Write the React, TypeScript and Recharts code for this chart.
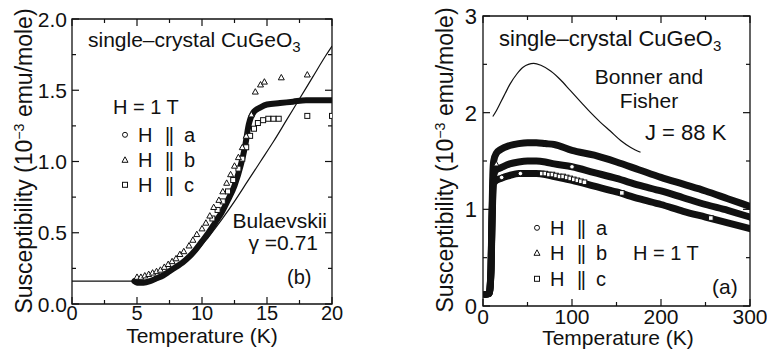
import React from 'react'
import { ComposedChart, Line, Scatter, XAxis, YAxis, ReferenceArea, Customized } from 'recharts'

// ---- panel (b): 0–20 K ----
const lowA_T = [4.8, 5.0, 5.5, 6.0, 6.5, 7.0, 7.5, 8.0, 8.5, 9.0, 9.5, 10.0, 10.5, 11.0, 11.5, 12.0, 12.5, 13.0, 13.3, 13.6, 14.0, 14.5, 15.0, 16.0, 17.0, 18.0, 19.0, 20.0]
const lowA_chi = [0.16, 0.15, 0.15, 0.16, 0.18, 0.2, 0.23, 0.26, 0.29, 0.33, 0.38, 0.44, 0.5, 0.57, 0.64, 0.73, 0.83, 0.98, 1.1, 1.26, 1.35, 1.38, 1.4, 1.41, 1.42, 1.43, 1.43, 1.43]

const lowB_T = [5.0, 5.3, 5.6, 5.9, 6.2, 6.5, 6.8, 7.1, 7.4, 7.7, 8.0, 8.3, 8.6, 9.0, 9.3, 9.6, 10.0, 10.3, 10.6, 10.9, 11.3, 11.6, 11.9, 12.2, 12.5, 12.8, 13.1, 13.4, 13.8, 14.1, 14.5, 14.8, 16.1, 18.1]
const lowB_chi = [0.19, 0.19, 0.2, 0.21, 0.22, 0.23, 0.24, 0.26, 0.28, 0.3, 0.32, 0.35, 0.37, 0.41, 0.45, 0.49, 0.53, 0.57, 0.62, 0.68, 0.73, 0.79, 0.85, 0.91, 0.97, 1.03, 1.1, 1.18, 1.33, 1.49, 1.54, 1.56, 1.59, 1.61]

const lowC_T = [10.8, 11.2, 11.6, 12.0, 12.4, 12.8, 13.1, 13.4, 13.7, 14.0, 14.3, 14.7, 15.1, 15.5, 15.9, 18.1, 20.0]
const lowC_chi = [0.6, 0.66, 0.72, 0.79, 0.87, 0.95, 1.02, 1.1, 1.18, 1.23, 1.27, 1.29, 1.3, 1.3, 1.3, 1.32, 1.32]

// Bulaevskii fit, gamma = 0.71
const bulT = [0, 4.5, 5.5, 6.5, 7.5, 8.5, 9.5, 10.5, 11.5, 12.5, 13.5, 14.5, 15.5, 16.5, 17.5, 18.5, 19.5, 20]
const bulChi = [0.16, 0.16, 0.165, 0.18, 0.22, 0.28, 0.36, 0.47, 0.59, 0.72, 0.86, 1.0, 1.14, 1.29, 1.44, 1.59, 1.74, 1.81]

const lowXMajor = [0, 5, 10, 15, 20]
const lowXLabels = ['0', '5', '10', '15', '20']
const lowXMinor = [2.5, 7.5, 12.5, 17.5]
const lowYMajor = [0, 0.5, 1, 1.5, 2]
const lowYLabels = ['0.0', '0.5', '1.0', '1.5', '2.0']
const lowYMinor = [0.25, 0.75, 1.25, 1.75]

// ---- panel (a): 0–300 K ----
const highA_T = [3, 7, 9, 10, 11, 12, 15, 20, 30, 40, 50, 60, 70, 80, 100, 125, 150, 175, 200, 225, 250, 275, 300]
const highA_chi = [0.12, 0.13, 0.38, 0.85, 1.2, 1.35, 1.41, 1.43, 1.47, 1.49, 1.5, 1.5, 1.49, 1.47, 1.44, 1.38, 1.32, 1.25, 1.19, 1.12, 1.05, 0.99, 0.92]

const highB_T = [3, 7, 9, 10, 11, 12, 15, 20, 30, 40, 50, 60, 70, 80, 100, 125, 150, 175, 200, 225, 250, 275, 300]
const highB_chi = [0.12, 0.13, 0.4, 0.9, 1.35, 1.5, 1.58, 1.62, 1.66, 1.68, 1.69, 1.69, 1.68, 1.67, 1.61, 1.56, 1.49, 1.41, 1.33, 1.26, 1.19, 1.11, 1.03]

const highC_T = [3, 7, 9, 10, 11, 12, 15, 20, 30, 40, 50, 60, 70, 80, 100, 125, 150, 175, 200, 225, 250, 275, 300]
const highC_chi = [0.12, 0.13, 0.36, 0.8, 1.15, 1.27, 1.3, 1.32, 1.35, 1.37, 1.37, 1.37, 1.36, 1.34, 1.3, 1.24, 1.18, 1.11, 1.05, 0.98, 0.92, 0.86, 0.8]

// open symbols that show through the dense bands
const highCircle_T = [21, 42, 100]
const highCircle_chi = [1.33, 1.37, 1.44]
const highTri_T = [15]
const highTri_chi = [1.47]
const highSq_T = [66, 70, 74, 78, 82, 86, 90, 94, 98, 102, 106, 110, 114, 156, 256]
const highSq_chi = [1.37, 1.37, 1.36, 1.36, 1.35, 1.34, 1.34, 1.33, 1.32, 1.31, 1.3, 1.29, 1.28, 1.17, 0.91]

// Bonner–Fisher chain, J = 88 K
const bfT = [11, 15, 20, 25, 30, 38, 45, 57, 65, 76, 87, 98, 110, 121, 132, 143, 155, 166, 177]
const bfChi = [1.96, 2.02, 2.11, 2.2, 2.29, 2.4, 2.47, 2.51, 2.49, 2.43, 2.34, 2.23, 2.11, 2.0, 1.9, 1.81, 1.71, 1.64, 1.59]

const highXMajor = [0, 100, 200, 300]
const highXLabels = ['0', '100', '200', '300']
const highXMinor = [50, 150, 250]
const highYMajor = [0, 1, 2, 3]
const highYLabels = ['0', '1', '2', '3']
const highYMinor = [0.5, 1.5, 2.5]

const zip = (ts: number[], vs: number[]) => ts.map((t, i) => ({ t, chi: vs[i] }))

const INK = '#111'
const FONT = '"Liberation Sans", Arial, Helvetica, sans-serif'

type Plot = { x: number; y: number; w: number; h: number }

const LOW_PLOT: Plot = { x: 72, y: 19, w: 260, h: 285 }
const HIGH_PLOT: Plot = { x: 103, y: 16, w: 267, h: 290 }

const sortTicks = (a: number[], b: number[]) => [...a, ...b].sort((p, q) => p - q)

// inward ticks on left and right edge, label on the left for majors
function makeYTick(plot: Plot, major: number[], labels: string[], gap: number, fs: number) {
  return (props: any) => {
    const { x, y, payload } = props
    const idx = major.indexOf(payload.value)
    const len = idx >= 0 ? 7 : 4
    const right = plot.x + plot.w
    return (
      <g>
        <line x1={x} x2={x + len} y1={y} y2={y} stroke={INK} strokeWidth={1.2} />
        <line x1={right} x2={right - len} y1={y} y2={y} stroke={INK} strokeWidth={1.2} />
        {idx >= 0 && (
          <text x={x - gap} y={y + fs * 0.36} textAnchor="end" fontSize={fs} fill={INK} fontFamily={FONT}>
            {labels[idx]}
          </text>
        )}
      </g>
    )
  }
}

// inward ticks on bottom and top edge, label below for majors
function makeXTick(plot: Plot, major: number[], labels: string[], drop: number, fs: number) {
  return (props: any) => {
    const { x, y, payload } = props
    const idx = major.indexOf(payload.value)
    const len = idx >= 0 ? 7 : 4
    const top = plot.y
    return (
      <g>
        <line x1={x} x2={x} y1={y} y2={y - len} stroke={INK} strokeWidth={1.2} />
        <line x1={x} x2={x} y1={top} y2={top + len} stroke={INK} strokeWidth={1.2} />
        {idx >= 0 && (
          <text x={x} y={y + drop} textAnchor="middle" fontSize={fs} fill={INK} fontFamily={FONT}>
            {labels[idx]}
          </text>
        )}
      </g>
    )
  }
}

const openCircle = (r: number) => (p: any) => (
  <circle cx={p.cx} cy={p.cy} r={r} fill="#fff" stroke={INK} strokeWidth={1} />
)
const openTriangle = (s: number) => (p: any) => (
  <polygon
    points={`${p.cx},${p.cy - s} ${p.cx - s},${p.cy + s * 0.8} ${p.cx + s},${p.cy + s * 0.8}`}
    fill="#fff"
    stroke={INK}
    strokeWidth={1}
  />
)
const openSquare = (s: number) => (p: any) => (
  <rect x={p.cx - s} y={p.cy - s} width={s * 2} height={s * 2} fill="#fff" stroke={INK} strokeWidth={1} />
)

function LegendRow({ x, y, letter, mark, fs }: { x: number; y: number; letter: string; mark: string; fs: number }) {
  const cy = y - fs * 0.36
  return (
    <g fontFamily={FONT} fontSize={fs} fill={INK}>
      {mark === 'o' && <circle cx={x} cy={cy} r={2.5} fill="#fff" stroke={INK} />}
      {mark === 't' && <polygon points={`${x},${cy - 3} ${x - 3},${cy + 2.5} ${x + 3},${cy + 2.5}`} fill="#fff" stroke={INK} />}
      {mark === 's' && <rect x={x - 2.5} y={cy - 2.5} width={5} height={5} fill="#fff" stroke={INK} />}
      <text x={x + 13} y={y}>H</text>
      <text x={x + 40} y={y} letterSpacing={-1.5}>||</text>
      <text x={x + 59} y={y}>{letter}</text>
    </g>
  )
}

function yTitle(x: number, cy: number, fs: number) {
  return (
    <text
      x={x}
      y={cy}
      transform={`rotate(-90 ${x} ${cy})`}
      textAnchor="middle"
      fontSize={fs}
      fill={INK}
      fontFamily={FONT}
    >
      Susceptibility (10
      <tspan dy={-8} fontSize={fs * 0.62}>−3</tspan>
      <tspan dy={8}> emu/mole)</tspan>
    </text>
  )
}

function LowLabels() {
  return (
    <g fontFamily={FONT} fill={INK}>
      <text x={88} y={47} fontSize={21}>
        single–crystal CuGeO<tspan dy={5} fontSize={15}>3</tspan>
      </text>
      <text x={113} y={114} fontSize={20}>H = 1 T</text>
      <LegendRow x={125} y={142} letter="a" mark="o" fs={20} />
      <LegendRow x={125} y={167} letter="b" mark="t" fs={20} />
      <LegendRow x={125} y={192} letter="c" mark="s" fs={20} />
      <text x={327} y={228} fontSize={21} textAnchor="end">Bulaevskii</text>
      <text x={318} y={250} fontSize={21} textAnchor="end">γ =0.71</text>
      <text x={287} y={284} fontSize={20}>(b)</text>
      <text x={202} y={343} fontSize={21} textAnchor="middle">Temperature (K)</text>
      {yTitle(32, 161, 23)}
    </g>
  )
}

function HighLabels() {
  return (
    <g fontFamily={FONT} fill={INK}>
      <text x={119} y={46} fontSize={22}>
        single–crystal CuGeO<tspan dy={5} fontSize={15}>3</tspan>
      </text>
      <text x={269} y={84} fontSize={21} textAnchor="middle">Bonner and</text>
      <text x={269} y={108} fontSize={21} textAnchor="middle">Fisher</text>
      <text x={265} y={140} fontSize={22}>J = 88 K</text>
      <LegendRow x={157} y={235} letter="a" mark="o" fs={20} />
      <LegendRow x={157} y={260} letter="b" mark="t" fs={20} />
      <LegendRow x={157} y={286} letter="c" mark="s" fs={20} />
      <text x={253} y={260} fontSize={20}>H = 1 T</text>
      <text x={332} y={294} fontSize={21}>(a)</text>
      <text x={238} y={345} fontSize={21} textAnchor="middle">Temperature (K)</text>
      {yTitle(73, 160, 23)}
    </g>
  )
}

function LowTempPanel() {
  const W = 380
  const H = 350
  const p = LOW_PLOT
  return (
    <ComposedChart
      width={W}
      height={H}
      margin={{ top: p.y, right: W - p.x - p.w, bottom: H - p.y - p.h - 30, left: p.x - 40 }}
    >
      <XAxis
        type="number"
        dataKey="t"
        domain={[0, 20]}
        ticks={sortTicks(lowXMajor, lowXMinor)}
        interval={0}
        height={30}
        axisLine={false}
        tickLine={false}
        tickSize={0}
        tickMargin={0}
        tick={makeXTick(p, lowXMajor, lowXLabels, 16, 20)}
        allowDataOverflow
      />
      <YAxis
        type="number"
        domain={[0, 2]}
        ticks={sortTicks(lowYMajor, lowYMinor)}
        interval={0}
        width={40}
        axisLine={false}
        tickLine={false}
        tickSize={0}
        tickMargin={0}
        tick={makeYTick(p, lowYMajor, lowYLabels, 5, 21)}
        allowDataOverflow
      />
      <ReferenceArea x1={0} x2={20} y1={0} y2={2} fill="none" stroke={INK} strokeWidth={1.3} />
      <Line data={zip(bulT, bulChi)} dataKey="chi" type="monotone" stroke={INK} strokeWidth={1.2} dot={false} isAnimationActive={false} />
      <Line data={zip(lowA_T, lowA_chi)} dataKey="chi" type="monotone" stroke={INK} strokeWidth={6} strokeLinecap="round" dot={false} isAnimationActive={false} />
      <Scatter data={zip(lowC_T, lowC_chi)} dataKey="chi" shape={openSquare(2.5)} isAnimationActive={false} />
      <Scatter data={zip(lowB_T, lowB_chi)} dataKey="chi" shape={openTriangle(3)} isAnimationActive={false} />
      <Customized component={<LowLabels />} />
    </ComposedChart>
  )
}

function FullRangePanel() {
  const W = 387
  const H = 350
  const p = HIGH_PLOT
  return (
    <ComposedChart
      width={W}
      height={H}
      margin={{ top: p.y, right: W - p.x - p.w, bottom: H - p.y - p.h - 30, left: p.x - 40 }}
    >
      <XAxis
        type="number"
        dataKey="t"
        domain={[0, 300]}
        ticks={sortTicks(highXMajor, highXMinor)}
        interval={0}
        height={30}
        axisLine={false}
        tickLine={false}
        tickSize={0}
        tickMargin={0}
        tick={makeXTick(p, highXMajor, highXLabels, 18, 21)}
        allowDataOverflow
      />
      <YAxis
        type="number"
        domain={[0, 3]}
        ticks={sortTicks(highYMajor, highYMinor)}
        interval={0}
        width={40}
        axisLine={false}
        tickLine={false}
        tickSize={0}
        tickMargin={0}
        tick={makeYTick(p, highYMajor, highYLabels, 6, 22)}
        allowDataOverflow
      />
      <ReferenceArea x1={0} x2={300} y1={0} y2={3} fill="none" stroke={INK} strokeWidth={1.3} />
      <Line data={zip(bfT, bfChi)} dataKey="chi" type="monotone" stroke={INK} strokeWidth={1.2} dot={false} isAnimationActive={false} />
      <Line data={zip(highB_T, highB_chi)} dataKey="chi" type="monotone" stroke={INK} strokeWidth={7} strokeLinecap="round" dot={false} isAnimationActive={false} />
      <Line data={zip(highA_T, highA_chi)} dataKey="chi" type="monotone" stroke={INK} strokeWidth={7} strokeLinecap="round" dot={false} isAnimationActive={false} />
      <Line data={zip(highC_T, highC_chi)} dataKey="chi" type="monotone" stroke={INK} strokeWidth={7} strokeLinecap="round" dot={false} isAnimationActive={false} />
      <Scatter data={zip(highSq_T, highSq_chi)} dataKey="chi" shape={openSquare(2.3)} isAnimationActive={false} />
      <Scatter data={zip(highCircle_T, highCircle_chi)} dataKey="chi" shape={openCircle(2.3)} isAnimationActive={false} />
      <Scatter data={zip(highTri_T, highTri_chi)} dataKey="chi" shape={openTriangle(2.6)} isAnimationActive={false} />
      <Customized component={<HighLabels />} />
    </ComposedChart>
  )
}

export default function App() {
  return (
    <div
      style={{
        position: 'absolute',
        left: 0,
        top: 0,
        width: 767,
        height: 350,
        background: '#fff',
        overflow: 'hidden',
        fontFamily: FONT,
      }}
    >
      <div style={{ position: 'absolute', left: 0, top: 0 }}>
        <LowTempPanel />
      </div>
      <div style={{ position: 'absolute', left: 380, top: 0 }}>
        <FullRangePanel />
      </div>
    </div>
  )
}
